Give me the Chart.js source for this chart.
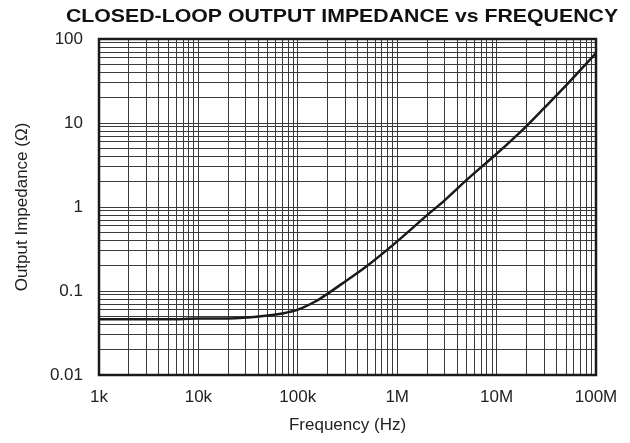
<!DOCTYPE html>
<html>
<head>
<meta charset="utf-8">
<script src="https://cdn.jsdelivr.net/npm/chart.js@4.4.0/dist/chart.umd.min.js"></script>
<style>
  body { margin: 0; background: #fff; }
  #wrap { width: 630px; height: 443px; }
</style>
</head>
<body>
<div id="wrap"><canvas id="zout" width="630" height="443"></canvas></div>
<script>
// Closed-loop output impedance curve
const freqHz = [1e3, 2e3, 5e3, 1e4, 2e4, 5e4, 7e4, 1e5, 1.5e5, 2e5, 3e5, 5e5, 1e6, 2e6, 3e6, 5e6, 1e7, 2e7, 3e7, 5e7, 1e8];
const impedanceOhm = [0.046, 0.046, 0.046, 0.047, 0.047, 0.051, 0.054, 0.06, 0.075, 0.093, 0.13, 0.2, 0.39, 0.8, 1.2, 2.1, 4.3, 9.2, 15, 28, 68];

// Decade labels for the axes
const xDecades = [1e3, 1e4, 1e5, 1e6, 1e7, 1e8];
const xDecadeLabels = ['1k', '10k', '100k', '1M', '10M', '100M'];
const yDecades = [0.01, 0.1, 1, 10, 100];
const yDecadeLabels = ['0.01', '0.1', '1', '10', '100'];

const FONT = 'Arial, "Liberation Sans", Helvetica, sans-serif';

// 1..9 ticks in every decade so the grid shows all minor lines
function decadeTicks(decades) {
    const out = [];
    for (let i = 0; i < decades.length - 1; i++) {
        for (let m = 1; m <= 9; m++) out.push({ value: decades[i] * m });
    }
    out.push({ value: decades[decades.length - 1] });
    return out;
}

function decadeLabel(decades, labels) {
    return function(value) {
        const i = decades.findIndex(d => Math.abs(d - value) / d < 1e-6);
        return i >= 0 ? labels[i] : '';
    };
}

// Heavy frame round the plot, and a wide bold title over it
const framePlugin = {
    id: 'frame',
    afterDraw(chart) {
        const { ctx, chartArea: a } = chart;
        ctx.save();
        ctx.strokeStyle = '#1a1a1a';
        ctx.lineWidth = 2.5;
        ctx.strokeRect(a.left, a.top, a.right - a.left, a.bottom - a.top);
        ctx.fillStyle = '#111';
        ctx.font = 'bold 19px ' + FONT;
        ctx.textAlign = 'center';
        ctx.textBaseline = 'middle';
        ctx.translate(342, 17);
        ctx.scale(1.12, 1);
        ctx.fillText('CLOSED-LOOP OUTPUT IMPEDANCE vs FREQUENCY', 0, 0);
        ctx.restore();
    }
};

new Chart(document.getElementById('zout'), {
    type: 'line',
    data: {
        datasets: [{
            data: freqHz.map((f, i) => ({ x: f, y: impedanceOhm[i] })),
            borderColor: '#1a1a1a',
            borderWidth: 2.5,
            pointRadius: 0,
            fill: false,
            cubicInterpolationMode: 'monotone'
        }]
    },
    options: {
        responsive: false,
        animation: false,
        layout: { padding: { top: 39, right: 34, left: 0, bottom: 0 } },
        plugins: {
            legend: { display: false },
            tooltip: { enabled: false }
        },
        scales: {
            x: {
                type: 'logarithmic',
                min: 1e3,
                max: 1e8,
                afterBuildTicks: s => { s.ticks = decadeTicks(xDecades); },
                afterFit: s => { s.height = 68; },
                ticks: {
                    autoSkip: false,
                    maxRotation: 0,
                    padding: 12,
                    color: '#222',
                    font: { family: FONT, size: 17 },
                    callback: decadeLabel(xDecades, xDecadeLabels)
                },
                grid: { color: '#3a3a3a', lineWidth: 1, drawTicks: false },
                border: { display: false },
                title: {
                    display: true,
                    text: 'Frequency (Hz)',
                    color: '#222',
                    font: { family: FONT, size: 17 },
                    padding: { top: 4, bottom: 7 }
                }
            },
            y: {
                type: 'logarithmic',
                min: 0.01,
                max: 100,
                afterBuildTicks: s => { s.ticks = decadeTicks(yDecades); },
                afterFit: s => { s.width = 99; },
                ticks: {
                    autoSkip: false,
                    padding: 16,
                    color: '#222',
                    font: { family: FONT, size: 17 },
                    callback: decadeLabel(yDecades, yDecadeLabels)
                },
                grid: { color: '#3a3a3a', lineWidth: 1, drawTicks: false },
                border: { display: false },
                title: {
                    display: true,
                    text: 'Output Impedance (Ω)',
                    color: '#222',
                    font: { family: FONT, size: 17 },
                    padding: { top: 12, bottom: 4 }
                }
            }
        }
    },
    plugins: [framePlugin]
});
</script>
</body>
</html>
